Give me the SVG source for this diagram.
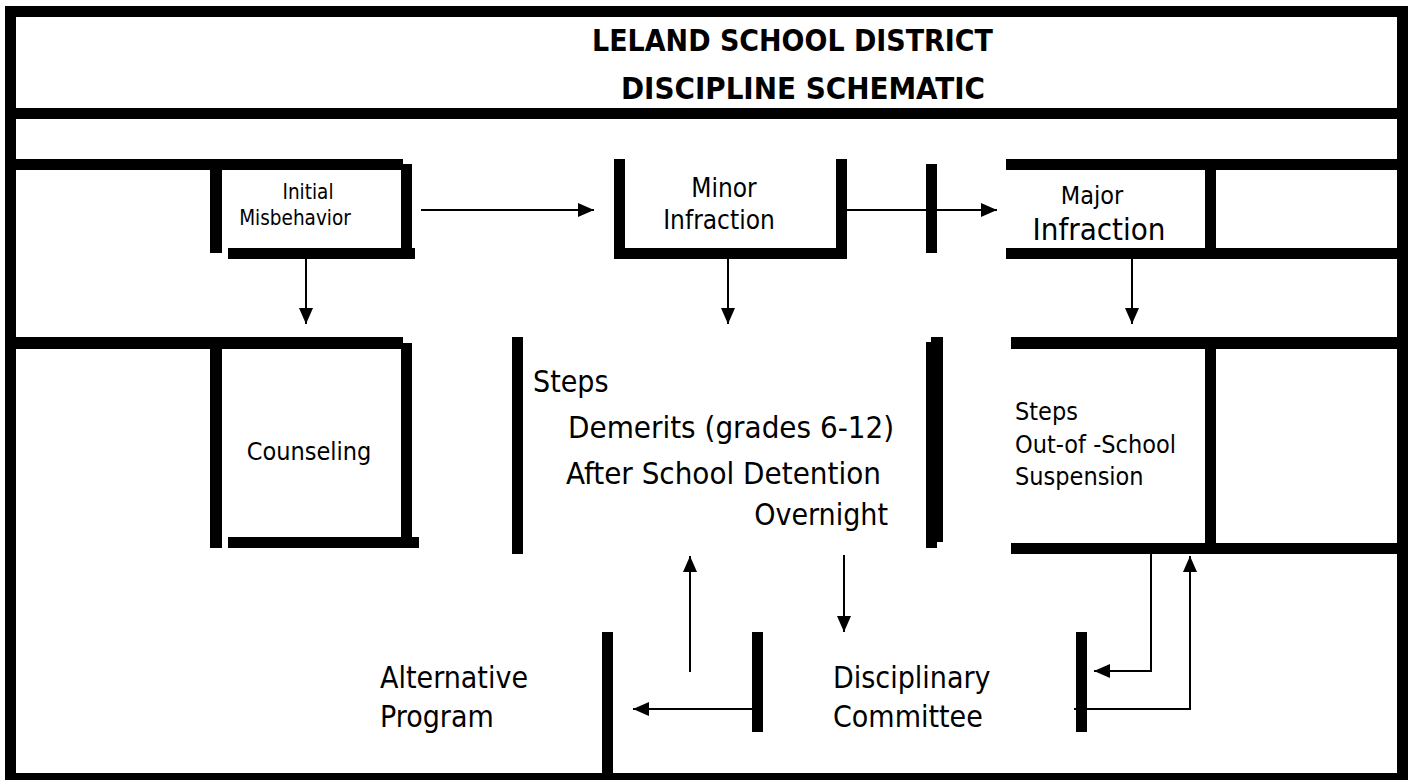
<svg xmlns="http://www.w3.org/2000/svg" width="1411" height="780" viewBox="0 0 1411 780">
<defs>
<style>
.w{fill:#000}
.t{font-family:"DejaVu Sans Condensed","DejaVu Sans",sans-serif;fill:#000}
.b{font-weight:bold}
.c{stroke:#000;stroke-width:2;fill:none}
</style>
<marker id="ah" markerUnits="userSpaceOnUse" markerWidth="16" markerHeight="14" refX="16" refY="7" orient="auto">
<path d="M0,0 L16,7 L0,14 Z" fill="#000"/>
</marker>
</defs>
<rect width="1411" height="780" fill="#fff"/>
<g id="frame">
<rect class="w" x="5" y="6" width="1403" height="11"/>
<rect class="w" x="5" y="6" width="11" height="780"/>
<rect class="w" x="1397" y="6" width="11" height="780"/>
<rect class="w" x="5" y="773" width="1403" height="11"/>
<rect class="w" x="16" y="108" width="1381" height="11"/>
</g>
<g id="title">
<text class="t b" x="592" y="51" font-size="30" textLength="401" lengthAdjust="spacingAndGlyphs">LELAND SCHOOL DISTRICT</text>
<text class="t b" x="621" y="99" font-size="30" textLength="364" lengthAdjust="spacingAndGlyphs">DISCIPLINE SCHEMATIC</text>
</g>
<g id="initial-misbehavior">
<rect class="w" x="16" y="159" width="387" height="11"/>
<rect class="w" x="210" y="170" width="12" height="83"/>
<rect class="w" x="401" y="164" width="11" height="95"/>
<rect class="w" x="228" y="248" width="187" height="11"/>
<text class="t" x="308" y="199" font-size="20.5" text-anchor="middle">Initial</text>
<text class="t" x="295" y="225" font-size="20.5" text-anchor="middle">Misbehavior</text>
</g>
<g id="minor-infraction">
<rect class="w" x="614" y="159" width="11" height="100"/>
<rect class="w" x="836" y="159" width="11" height="100"/>
<rect class="w" x="625" y="248" width="211" height="11"/>
<text class="t" x="724" y="197" font-size="26" text-anchor="middle">Minor</text>
<text class="t" x="719" y="229" font-size="26" text-anchor="middle">Infraction</text>
</g>
<g id="separator">
<rect class="w" x="926" y="164" width="11" height="89"/>
</g>
<g id="major-infraction">
<rect class="w" x="1006" y="159" width="391" height="11"/>
<rect class="w" x="1205" y="170" width="11" height="78"/>
<rect class="w" x="1006" y="248" width="391" height="11"/>
<text class="t" x="1092" y="204" font-size="25" text-anchor="middle">Major</text>
<text class="t" x="1099" y="240" font-size="31" text-anchor="middle">Infraction</text>
</g>
<g id="counseling">
<rect class="w" x="16" y="337" width="387" height="12"/>
<rect class="w" x="210" y="349" width="12" height="199"/>
<rect class="w" x="401" y="343" width="11" height="205"/>
<rect class="w" x="228" y="537" width="191" height="11"/>
<text class="t" x="309" y="460" font-size="25" text-anchor="middle">Counseling</text>
</g>
<g id="minor-steps">
<rect class="w" x="512" y="337" width="11" height="217"/>
<rect class="w" x="926" y="342" width="11" height="206"/>
<rect class="w" x="931" y="337" width="12" height="205"/>
<text class="t" x="533" y="392" font-size="30">Steps</text>
<text class="t" x="568" y="438" font-size="31">Demerits (grades 6-12)</text>
<text class="t" x="566" y="484" font-size="31">After School Detention</text>
<text class="t" x="888" y="525" font-size="30" text-anchor="end">Overnight</text>
</g>
<g id="major-steps">
<rect class="w" x="1011" y="337" width="386" height="12"/>
<rect class="w" x="1205" y="349" width="11" height="194"/>
<rect class="w" x="1011" y="543" width="386" height="11"/>
<text class="t" x="1015" y="420" font-size="25">Steps</text>
<text class="t" x="1015" y="453" font-size="25">Out-of -School</text>
<text class="t" x="1015" y="485" font-size="25">Suspension</text>
</g>
<g id="alternative-program">
<rect class="w" x="602" y="632" width="11" height="148"/>
<text class="t" x="380" y="688" font-size="30">Alternative</text>
<text class="t" x="380" y="727" font-size="30">Program</text>
</g>
<g id="disciplinary-committee">
<rect class="w" x="752" y="632" width="11" height="100"/>
<rect class="w" x="1076" y="632" width="11" height="100"/>
<text class="t" x="833" y="688" font-size="30">Disciplinary</text>
<text class="t" x="833" y="727" font-size="30">Committee</text>
</g>
<g id="connectors">
<line class="c" x1="421" y1="210" x2="594" y2="210" marker-end="url(#ah)"/>
<line class="c" x1="847" y1="210" x2="997" y2="210" marker-end="url(#ah)"/>
<line class="c" x1="306" y1="248" x2="306" y2="324" marker-end="url(#ah)"/>
<line class="c" x1="728" y1="248" x2="728" y2="324" marker-end="url(#ah)"/>
<line class="c" x1="1132" y1="248" x2="1132" y2="324" marker-end="url(#ah)"/>
<line class="c" x1="844" y1="555" x2="844" y2="632" marker-end="url(#ah)"/>
<line class="c" x1="690" y1="672" x2="690" y2="556" marker-end="url(#ah)"/>
<line class="c" x1="752" y1="709" x2="633" y2="709" marker-end="url(#ah)"/>
<polyline class="c" points="1151,554 1151,671 1094,671" marker-end="url(#ah)"/>
<polyline class="c" points="1074,709 1190,709 1190,556" marker-end="url(#ah)"/>
</g>
</svg>
